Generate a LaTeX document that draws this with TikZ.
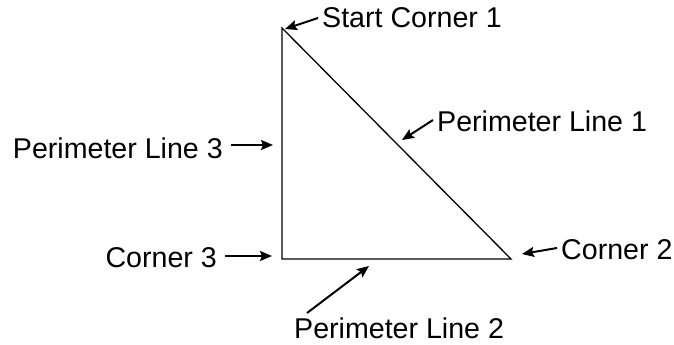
\documentclass[tikz,border=0pt]{standalone}
\usepackage{fontspec}
\setmainfont{Liberation Sans}
\usetikzlibrary{arrows.meta}
\begin{document}
\begin{tikzpicture}[x=1pt,y=-1pt,
  lbl/.style={inner sep=0pt,font=\fontsize{28.6}{31}\selectfont},
  pointer/.style={line width=2pt,-{Stealth[length=12pt,width=10pt,inset=2pt]}},
  edge/.style={line width=1.3pt,line join=miter}]
\useasboundingbox (0,0) rectangle (674,345);
% triangle corners
\coordinate (c1) at (282,28);
\coordinate (c2) at (511,259);
\coordinate (c3) at (282,259);
\draw[edge] (c1) -- (c2) -- (c3) -- cycle;
% labels
\node[lbl,anchor=base west] (l1) at (322,28) {Start Corner 1};
\node[lbl,anchor=base west] (l2) at (437,131) {Perimeter Line 1};
\node[lbl,anchor=base east] (l3) at (223,158) {Perimeter Line 3};
\node[lbl,anchor=base east] (l4) at (217,267) {Corner 3};
\node[lbl,anchor=base west] (l5) at (561,259) {Corner 2};
\node[lbl,anchor=base west] (l6) at (294,338) {Perimeter Line 2};
% arrow ends
\coordinate (s1) at (318,18);  \coordinate (t1) at (285,29);
\coordinate (s2) at (433,120); \coordinate (t2) at (402,140);
\coordinate (s3) at (231,145); \coordinate (t3) at (273,145);
\coordinate (s4) at (225,256); \coordinate (t4) at (272,256);
\coordinate (s5) at (557,248); \coordinate (t5) at (522,254);
\coordinate (s6) at (307,313); \coordinate (t6) at (369,266);
\draw[pointer] (s1) -- (t1);
\draw[pointer] (s2) -- (t2);
\draw[pointer] (s3) -- (t3);
\draw[pointer] (s4) -- (t4);
\draw[pointer] (s5) -- (t5);
\draw[pointer] (s6) -- (t6);
\end{tikzpicture}
\end{document}
